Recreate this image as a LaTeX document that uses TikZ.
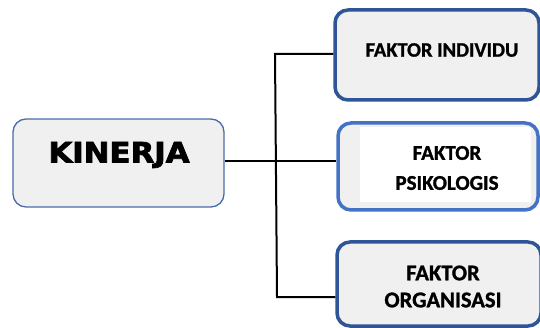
\documentclass[tikz,border=0pt]{standalone}
\usepackage{fontspec}
\setmainfont{Carlito}
\newfontfamily\factorfont[FakeBold=1.2]{Carlito Bold}
\newfontfamily\wideblack[FakeBold=2.5]{DejaVu Sans Bold}
\definecolor{boxfill}{HTML}{F0F0F0}
\definecolor{darkblue}{HTML}{2F5597}
\definecolor{midblue}{HTML}{4472C4}
\definecolor{thinblue}{HTML}{4A6BAA}
\begin{document}
\begin{tikzpicture}[x=1pt,y=-1pt,
  factorbox/.style={draw=darkblue, line width=3.5pt, fill=boxfill, rounded corners=13pt,
    inner sep=0pt},
  link/.style={draw=black, line width=2pt}]
\useasboundingbox (0,0) rectangle (540,328);
% main box
\node[draw=thinblue, line width=1.3pt, fill=boxfill, rounded corners=13pt,
  minimum width=211pt, minimum height=88pt, inner sep=0pt] (kin) at (118.5,163) {};
\node[font=\wideblack\fontsize{28}{30}\selectfont] (kintext) at (119,155)
  {\scalebox{1.1}[1]{KINERJA}};
% factor boxes
\node[factorbox, minimum width=204pt, minimum height=90pt] (ind) at (437,55) {};
\node[font=\factorfont\fontsize{20.5}{24}\selectfont] (indtext) at (442,50) {FAKTOR INDIVIDU};
\node[factorbox, draw=midblue, minimum width=200pt, minimum height=87pt] (psi) at (438,166.5) {};
\fill[white] (360,127) rectangle (531,202);
\node[font=\factorfont\fontsize{21}{30}\selectfont, align=center] (psitext) at (447,168)
  {FAKTOR\\PSIKOLOGIS};
\node[factorbox, minimum width=204pt, minimum height=84pt] (org) at (439,284) {};
\node[font=\factorfont\fontsize{22.5}{27}\selectfont, align=center] (orgtext) at (443,286.5)
  {FAKTOR\\ORGANISASI};
% connectors
\coordinate (trunkTop) at (275,54);
\coordinate (trunkMid) at (276,161);
\coordinate (trunkBot) at (277,297);
\draw[link] (kin.east |- trunkMid) -- (psi.west |- trunkMid);
\draw[link] (ind.west |- trunkTop) -- (trunkTop) -- (trunkBot) -- (org.west |- trunkBot);
\end{tikzpicture}
\end{document}
